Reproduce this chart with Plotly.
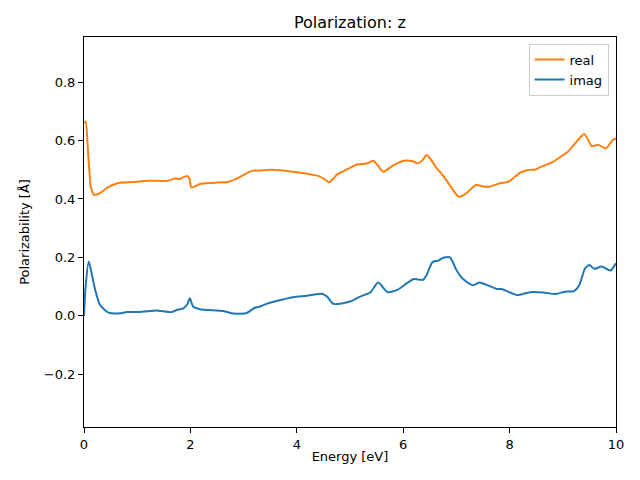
import plotly.graph_objects as go

real_x = [0.0, 0.03, 0.08, 0.13, 0.19, 0.3, 0.45, 0.6, 0.71, 0.9, 1.21, 1.4, 1.58, 1.71, 1.79, 1.94, 1.98, 2.02, 2.18, 2.4, 2.62, 2.68, 2.9, 3.15, 3.31, 3.5, 3.75, 4.0, 4.2, 4.4, 4.52, 4.61, 4.76, 4.94, 5.13, 5.31, 5.44, 5.52, 5.63, 5.81, 6.02, 6.16, 6.28, 6.36, 6.44, 6.52, 6.63, 6.72, 6.82, 6.92, 7.04, 7.16, 7.37, 7.5, 7.63, 7.82, 7.98, 8.2, 8.35, 8.48, 8.63, 8.79, 8.98, 9.1, 9.26, 9.4, 9.47, 9.54, 9.67, 9.81, 9.95, 10.0]
real_y = [0.66, 0.665, 0.55, 0.44, 0.414, 0.42, 0.44, 0.452, 0.456, 0.458, 0.462, 0.462, 0.462, 0.47, 0.468, 0.479, 0.47, 0.439, 0.451, 0.455, 0.457, 0.457, 0.472, 0.496, 0.497, 0.50, 0.497, 0.491, 0.486, 0.479, 0.468, 0.457, 0.484, 0.501, 0.518, 0.521, 0.531, 0.515, 0.493, 0.515, 0.531, 0.530, 0.522, 0.532, 0.550, 0.535, 0.505, 0.487, 0.462, 0.435, 0.408, 0.416, 0.448, 0.443, 0.442, 0.454, 0.459, 0.49, 0.499, 0.501, 0.513, 0.524, 0.547, 0.562, 0.596, 0.622, 0.605, 0.581, 0.585, 0.573, 0.604, 0.605]

imag_x = [0.0, 0.03, 0.09, 0.15, 0.21, 0.3, 0.46, 0.68, 0.8, 1.0, 1.24, 1.4, 1.65, 1.74, 1.87, 1.94, 1.99, 2.05, 2.18, 2.62, 2.81, 3.06, 3.21, 3.31, 3.43, 3.62, 3.93, 4.19, 4.47, 4.57, 4.69, 5.0, 5.19, 5.38, 5.53, 5.71, 5.91, 6.07, 6.2, 6.37, 6.44, 6.55, 6.66, 6.75, 6.88, 7.0, 7.13, 7.31, 7.43, 7.57, 7.76, 7.85, 8.01, 8.15, 8.38, 8.63, 8.87, 9.04, 9.21, 9.31, 9.42, 9.5, 9.59, 9.73, 9.89, 10.0]
imag_y = [0.0, 0.1, 0.186, 0.14, 0.089, 0.038, 0.011, 0.009, 0.013, 0.013, 0.017, 0.018, 0.013, 0.02, 0.026, 0.04, 0.06, 0.032, 0.023, 0.017, 0.008, 0.01, 0.028, 0.032, 0.041, 0.051, 0.064, 0.069, 0.076, 0.066, 0.041, 0.049, 0.066, 0.080, 0.114, 0.081, 0.091, 0.112, 0.126, 0.123, 0.14, 0.184, 0.189, 0.199, 0.2, 0.157, 0.125, 0.105, 0.114, 0.106, 0.092, 0.092, 0.08, 0.071, 0.081, 0.08, 0.075, 0.083, 0.085, 0.106, 0.163, 0.174, 0.161, 0.169, 0.155, 0.18]

fig = go.Figure()
fig.add_trace(go.Scatter(x=real_x, y=real_y, mode="lines", name="real",
                         line=dict(color="#ff7f0e", width=2, shape="spline", smoothing=0.6)))
fig.add_trace(go.Scatter(x=imag_x, y=imag_y, mode="lines", name="imag",
                         line=dict(color="#1f77b4", width=2, shape="spline", smoothing=0.6)))

font = dict(family="DejaVu Sans", size=13, color="black")
axis_common = dict(showline=True, linecolor="black", linewidth=1, mirror=True,
                   ticks="outside", ticklen=5, tickwidth=1, tickcolor="black",
                   showgrid=False, zeroline=False, tickfont=font)

fig.update_layout(
    width=632, height=472,
    margin=dict(l=76, r=24, t=29, b=53),
    paper_bgcolor="white", plot_bgcolor="white",
    font=font,
    title=dict(text="Polarization: z", x=0.541, xanchor="center", y=0.970, yanchor="middle",
               font=dict(family="DejaVu Sans", size=16, color="black")),
    xaxis=dict(range=[0, 10], tickvals=[0, 2, 4, 6, 8, 10],
               title=dict(text="Energy [eV]", font=font, standoff=1), **axis_common),
    yaxis=dict(range=[-0.38, 0.954], tickvals=[-0.2, 0.0, 0.2, 0.4, 0.6, 0.8],
               tickformat=".1f",
               title=dict(text="Polarizability [Å]", font=font, standoff=11), **axis_common),
    legend=dict(x=0.986, y=0.983, xanchor="right", yanchor="top",
                bordercolor="#cccccc", borderwidth=1, bgcolor="rgba(255,255,255,0.8)",
                font=font, tracegroupgap=0, itemwidth=30),
    showlegend=True,
)

fig.write_html("out.html")
